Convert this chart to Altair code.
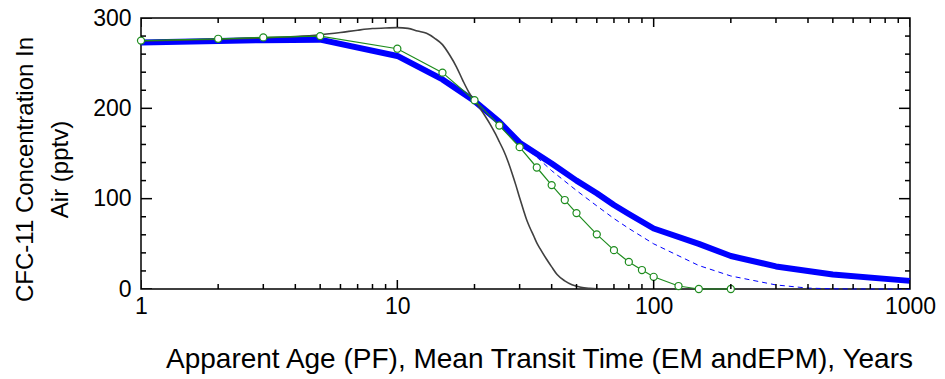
import altair as alt
import pandas as pd

# ---- data ----
pf_x = [1, 2, 3, 4, 5, 6, 7, 8, 9, 10, 11, 12, 13, 14, 15, 16, 17, 18, 19, 20,
        21, 22, 23, 24, 25, 26, 27, 28, 29, 30, 31, 32, 33, 34, 35, 36, 38, 40,
        42, 45, 48, 52, 56, 60, 65]
pf_y = [274.5, 276.5, 278, 279.5, 281.5, 284, 286.5, 288.3, 289, 289.3, 288.5,
        285.5, 283, 277.5, 270.5, 259, 246, 231, 218, 208.5, 200, 191.5, 182.5,
        173, 163, 153, 141.5, 128.5, 115, 101, 88, 76, 67, 59, 51, 45, 34, 24.5,
        16, 9, 4.8, 2, 0.8, 0.2, 0]

pts_x = [1, 2, 3, 5, 10, 15, 20, 25, 30, 35, 40, 45, 50, 60, 70, 80, 90, 100,
         125, 150, 200]
pts_y = [275, 277, 278.5, 280, 266, 239.5, 209, 181, 157, 134.5, 115, 98.5, 84,
         60.5, 43, 30, 21, 13.5, 3.3, 0, 0]

em_x = [1, 2, 3, 5, 10, 15, 20, 25, 30, 40, 50, 60, 70, 80, 100, 150, 200, 300,
        500, 1000]
em_y = [273, 274.5, 275.5, 276, 258, 232, 208, 185, 162, 139, 120, 106, 93, 83,
        67, 50, 36.5, 25, 16, 9]

epm_x = [1, 2, 3, 5, 10, 15, 20, 25, 30, 35, 40, 50, 60, 70, 80, 100, 150, 200,
         300, 400, 500, 700, 1000]
epm_y = [273, 274.5, 275.5, 276, 258, 232, 208, 185, 161, 146, 131, 109, 92, 78,
         67, 50, 26, 14.4, 4.5, 1, 0.2, 0, 0]

x_major = [1, 10, 100, 1000]
x_minor = [2, 3, 4, 5, 6, 7, 8, 9, 20, 30, 40, 50, 60, 70, 80, 90,
           200, 300, 400, 500, 600, 700, 800, 900]
y_major = [0, 100, 200, 300]
y_minor = [20, 40, 60, 80, 120, 140, 160, 180, 220, 240, 260, 280]

x_title = "Apparent Age (PF), Mean Transit Time (EM andEPM), Years"
y_title = ["CFC-11 Concentration In", "Air (pptv)"]

FONT = "Liberation Sans"
X_MAJ_LEN, X_MIN_LEN = 9, 5
Y_MAJ_LEN, Y_MIN_LEN = 11, 5

pf = pd.DataFrame({"x": pf_x, "y": pf_y})
pts = pd.DataFrame({"x": pts_x, "y": pts_y})
em = pd.DataFrame({"x": em_x, "y": em_y})
epm = pd.DataFrame({"x": epm_x, "y": epm_y})

# tick tables (length doubled: half of each tick is clipped away outside the frame)
xt = pd.DataFrame({"v": x_major + x_minor,
                   "len": [2 * X_MAJ_LEN] * len(x_major) + [2 * X_MIN_LEN] * len(x_minor)})
yt = pd.DataFrame({"v": y_major + y_minor,
                   "len": [2 * Y_MAJ_LEN] * len(y_major) + [2 * Y_MIN_LEN] * len(y_minor)})

xs = alt.Scale(type="log", domain=[1, 1000], nice=False)
ys = alt.Scale(domain=[0, 300], nice=False, zero=False)

x_main = alt.Axis(orient="bottom", values=x_major, format="d", labelFlush=False,
                  labelOverlap=False, ticks=False, tickSize=0, domain=False,
                  grid=False, labelFont=FONT, labelFontSize=23,
                  labelColor="black", labelPadding=6, title=x_title,
                  titleFont=FONT, titleFontSize=28, titleFontWeight="normal",
                  titleColor="black", titleX=398, titleY=78,
                  titleBaseline="alphabetic", titleAlign="center")
y_main = alt.Axis(orient="left", values=y_major, ticks=False, tickSize=0,
                  domain=False, grid=False, labelFont=FONT, labelFontSize=23,
                  labelColor="black", labelPadding=10, title=y_title,
                  titleFont=FONT, titleFontSize=24, titleFontWeight="normal",
                  titleColor="black", titleAngle=270, titleX=-116, titleY=151,
                  titleBaseline="middle", titleAlign="center",
                  titleLineHeight=35)

X = alt.X("x:Q", scale=xs, axis=x_main)
Y = alt.Y("y:Q", scale=ys, axis=y_main)

epm_layer = alt.Chart(epm).mark_line(color="#0000ff", strokeWidth=1,
                                     strokeDash=[5, 4]).encode(x=X, y=Y)
em_layer = alt.Chart(em).mark_line(color="#0000ff", strokeWidth=6,
                                   strokeJoin="round").encode(x=X, y=Y)
pf_layer = alt.Chart(pf).mark_line(color="#404040", strokeWidth=1.6,
                                   interpolate="monotone").encode(x=X, y=Y)
pts_line = alt.Chart(pts).mark_line(color="#1e8c1e", strokeWidth=1.2).encode(x=X, y=Y)
pts_marks = alt.Chart(pts).mark_point(shape="circle", filled=True, fill="white",
                                      stroke="#1e8c1e", strokeWidth=1.2,
                                      size=50, opacity=1).encode(x=X, y=Y)


def xticks(edge):
    return alt.Chart(xt).mark_tick(orient="vertical", clip=True, color="black",
                                   thickness=1.5, opacity=1).encode(
        x=alt.X("v:Q", scale=xs, axis=x_main),
        y=alt.Y(datum=edge, type="quantitative", scale=ys, axis=y_main),
        size=alt.Size("len:Q", scale=None, legend=None),
    )


def yticks(edge):
    return alt.Chart(yt).mark_tick(orient="horizontal", clip=True, color="black",
                                   thickness=1.5, opacity=1).encode(
        y=alt.Y("v:Q", scale=ys, axis=y_main),
        x=alt.X(datum=edge, type="quantitative", scale=xs, axis=x_main),
        size=alt.Size("len:Q", scale=None, legend=None),
    )


chart = alt.layer(
    epm_layer, em_layer, pf_layer, pts_line, pts_marks,
    xticks(0), xticks(300), yticks(1), yticks(1000),
).properties(
    width=769, height=271,
    autosize=alt.AutoSizeParams(type="none"),
    padding={"left": 141, "top": 18, "right": 35, "bottom": 90},
    background="white",
).configure_view(stroke="black", strokeWidth=1.5)

chart.save("out.html", embed_options={"renderer": "svg", "actions": False})
